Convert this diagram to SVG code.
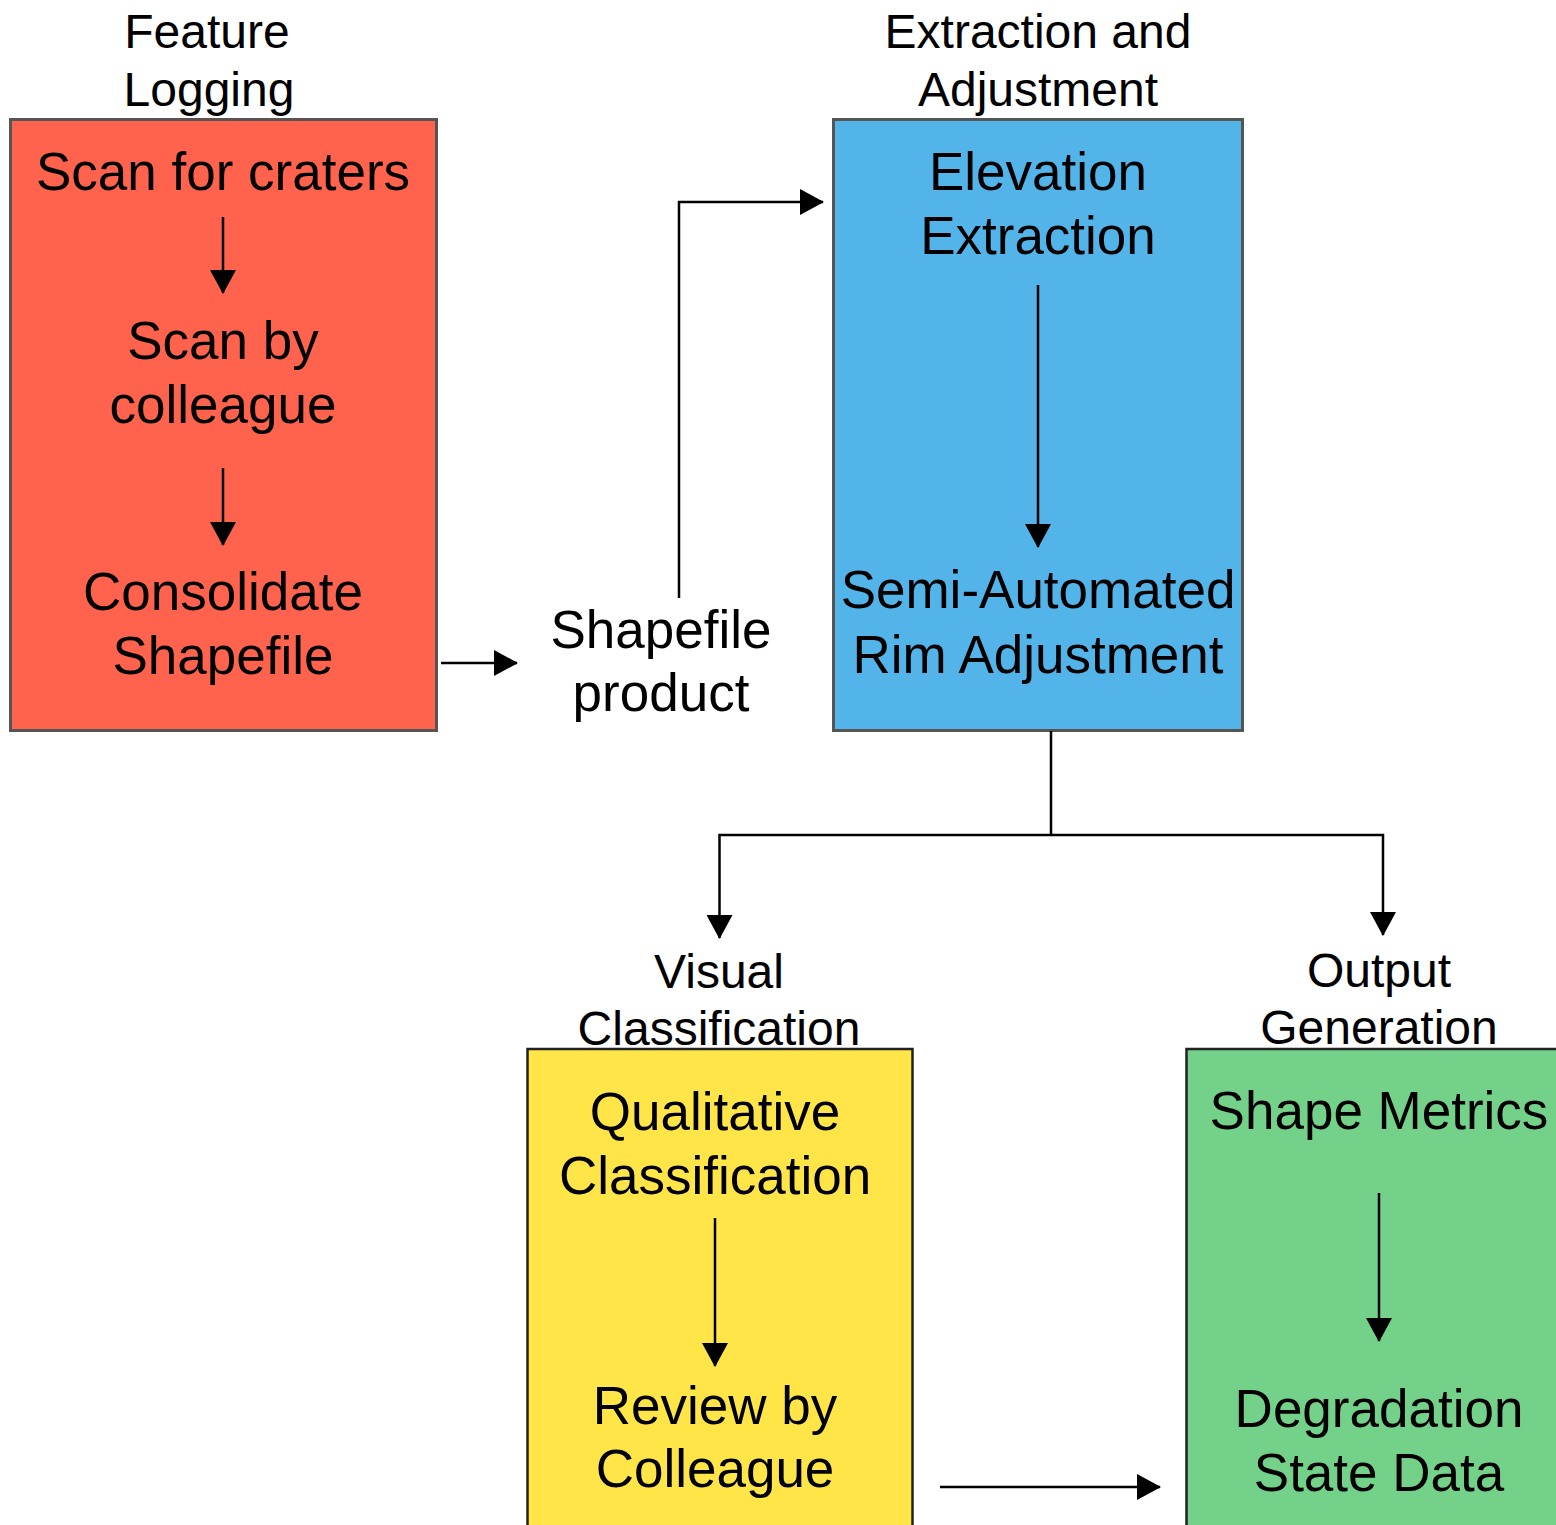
<svg xmlns="http://www.w3.org/2000/svg" width="1556" height="1525" viewBox="0 0 1556 1525">
<style>
text{font-family:"Liberation Sans",Arial,sans-serif;fill:#000;text-anchor:middle}
.h{font-size:48px}
.t{font-size:53px}
.c{fill:none;stroke:#000;stroke-width:2.5}
</style>
<defs>
<marker id="a" markerUnits="userSpaceOnUse" markerWidth="24" markerHeight="26" refX="23" refY="13" orient="auto">
<path d="M0,0 L24,13 L0,26 Z" fill="#000"/>
</marker>
</defs>
<rect width="1556" height="1525" fill="#fff"/>
<g id="feature-logging">
<text class="h" x="207" y="48">Feature</text>
<text class="h" x="209" y="106">Logging</text>
<rect x="10.5" y="119.5" width="426" height="611" fill="#FF624D" stroke="#555" stroke-width="3"/>
<text class="t" x="223" y="190">Scan for craters</text>
<text class="t" x="223" y="359">Scan by</text>
<text class="t" x="223" y="423">colleague</text>
<text class="t" x="223" y="610">Consolidate</text>
<text class="t" x="223" y="674">Shapefile</text>
</g>
<g id="shapefile-product">
<text class="t" x="661" y="648">Shapefile</text>
<text class="t" x="661" y="711">product</text>
</g>
<g id="extraction-adjustment">
<text class="h" x="1038" y="48">Extraction and</text>
<text class="h" x="1038" y="106">Adjustment</text>
<rect x="833.5" y="119.5" width="409" height="611" fill="#53B4EA" stroke="#555" stroke-width="3"/>
<text class="t" x="1038" y="190">Elevation</text>
<text class="t" x="1038" y="254">Extraction</text>
<text class="t" x="1038" y="608">Semi-Automated</text>
<text class="t" x="1038" y="673">Rim Adjustment</text>
</g>
<g id="visual-classification">
<text class="h" x="719" y="988">Visual</text>
<text class="h" x="719" y="1045">Classification</text>
<rect x="527.5" y="1049" width="385" height="490" fill="#FFE547" stroke="#222" stroke-width="2.5"/>
<text class="t" x="715" y="1130">Qualitative</text>
<text class="t" x="715" y="1194">Classification</text>
<text class="t" x="715" y="1424">Review by</text>
<text class="t" x="715" y="1487">Colleague</text>
</g>
<g id="output-generation">
<text class="h" x="1379" y="987">Output</text>
<text class="h" x="1379" y="1044">Generation</text>
<rect x="1186.5" y="1049" width="400" height="490" fill="#74D18A" stroke="#222" stroke-width="2.5"/>
<text class="t" x="1379" y="1129">Shape Metrics</text>
<text class="t" x="1379" y="1427">Degradation</text>
<text class="t" x="1379" y="1491">State Data</text>
</g>
<g id="connectors">
<path class="c" d="M223,217 V293" marker-end="url(#a)"/>
<path class="c" d="M223,468 V545" marker-end="url(#a)"/>
<path class="c" d="M441,663 H517" marker-end="url(#a)"/>
<path class="c" d="M679,598 V202 H823" marker-end="url(#a)"/>
<path class="c" d="M1038,285 V547" marker-end="url(#a)"/>
<path class="c" d="M1051,731 V835"/>
<path class="c" d="M1051,835 H719.5 V938" marker-end="url(#a)"/>
<path class="c" d="M1051,835 H1383 V935" marker-end="url(#a)"/>
<path class="c" d="M715,1218 V1366" marker-end="url(#a)"/>
<path class="c" d="M1379,1193 V1341" marker-end="url(#a)"/>
<path class="c" d="M940,1487 H1160" marker-end="url(#a)"/>
</g>
</svg>
